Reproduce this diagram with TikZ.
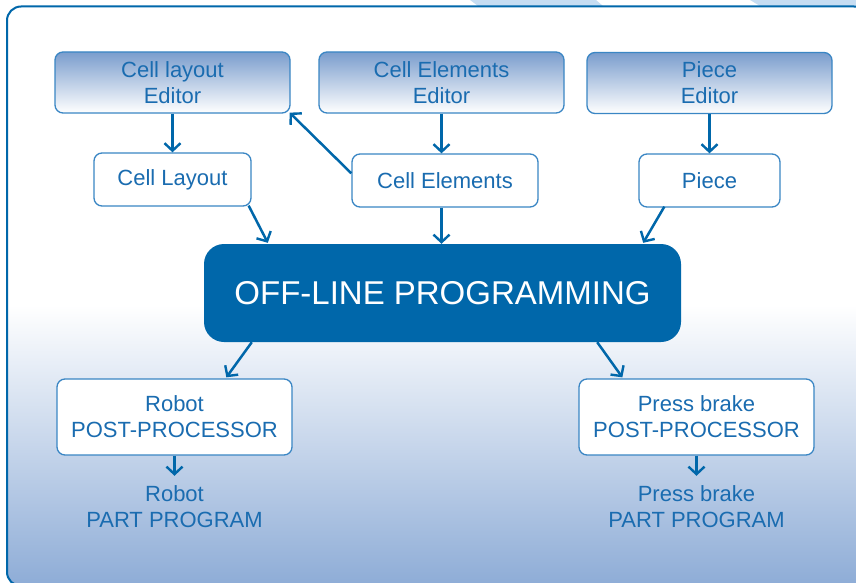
\documentclass[tikz,border=0pt]{standalone}
\usepackage{fontspec}
\setmainfont{Liberation Sans}
\usetikzlibrary{arrows.meta,calc}
\definecolor{mainblue}{HTML}{0067AA}
\definecolor{txtblue}{HTML}{1A6CB0}
\definecolor{boxline}{HTML}{3A86C4}
\definecolor{edtop}{HTML}{7A9DCD}
\definecolor{bgbot}{HTML}{8CABD6}
\definecolor{stripe}{HTML}{C6DDF2}
\tikzset{
  txt/.style={font=\fontsize{22}{26}\selectfont, text=txtblue, align=center},
  plainbox/.style={txt, draw=boxline, line width=1.3pt, rounded corners=8pt, fill=white, inner sep=0pt},
  editorbox/.style={plainbox, top color=edtop, bottom color=white, middle color=edtop!50!white, draw=boxline},
  mainbox/.style={fill=mainblue, rounded corners=20pt, inner sep=0pt, text=white, font=\fontsize{33}{36}\selectfont},
  arr/.style={draw=mainblue, line width=2.5pt, -{Straight Barb[length=7.5pt,width=16pt,line width=2.4pt]}},
}
\begin{document}
\begin{tikzpicture}[x=1pt,y=-1pt]
\useasboundingbox (0,0) rectangle (856,583);
% top stripes
\fill[stripe] (470,0) -- (596,0) -- (603,6) -- (478,6) -- cycle;
\fill[stripe] (750,0) -- (856,0) -- (856,6) -- (760,6) -- cycle;
% frame background
\begin{scope}
  \clip[rounded corners=14pt] (7,6.5) rectangle (868,586);
  \fill[white] (0,0) rectangle (870,590);
  \shade[top color=white, bottom color=bgbot] (0,305) rectangle (870,590);
\end{scope}
\draw[mainblue, line width=2pt, rounded corners=14pt] (7,6.5) rectangle (868,586);

% nodes
\node[editorbox, minimum width=235pt, minimum height=61pt] (cle) at (172.5,82.5) {Cell layout\\Editor};
\node[editorbox, minimum width=245pt, minimum height=61pt] (cee) at (441.5,82.5) {Cell Elements\\Editor};
\node[editorbox, minimum width=245pt, minimum height=61pt] (pe) at (709.5,83) {Piece\\Editor};

\node[plainbox, minimum width=157pt, minimum height=53pt] (cl) at (172.5,179.5) {Cell Layout};
\node[plainbox, minimum width=186pt, minimum height=53pt] (ce) at (445,180.5) {Cell Elements};
\node[plainbox, minimum width=141pt, minimum height=53pt] (pc) at (709.5,180.5) {Piece};

\node[mainbox, minimum width=477pt, minimum height=98pt] (off) at (442.5,293) {OFF-LINE PROGRAMMING};

\node[plainbox, minimum width=235pt, minimum height=76pt] (rpp) at (174.5,417) {Robot\\POST-PROCESSOR};
\node[plainbox, minimum width=235pt, minimum height=76pt] (ppp) at (696.5,417) {Press brake\\POST-PROCESSOR};

\node[txt, inner sep=0pt, minimum height=56pt] (rpt) at (174.5,507) {Robot\\PART PROGRAM};
\node[txt, inner sep=0pt, minimum height=56pt] (ppt) at (696.5,507) {Press brake\\PART PROGRAM};

% connectors
\draw[arr] (cle.south) -- (cl.north);
\draw[arr] (cee.south) -- (cee.south |- ce.north);
\draw[arr] (pe.south) -- (pc.north);
\draw[arr] ($(ce.north west)+(0,20)$) -- ($(cle.south east)+(-1,-1)$);
\draw[arr] ($(cl.south east)+(-3,-1)$) -- ($(off.north west)+(64,-1)$);
\draw[arr] (cee.south |- ce.south) -- (cee.south |- off.north);
\draw[arr] ($(pc.south west)+(26,-1)$) -- ($(off.north east)+(-38,-1)$);
\draw[arr] ($(off.south west)+(48,0)$) -- ($(rpp.north west)+(170,-1)$);
\draw[arr] ($(off.south east)+(-84,0)$) -- ($(ppp.north west)+(44,-1)$);
\draw[arr] (rpp.south) -- ($(rpt.north)+(0,-3)$);
\draw[arr] (ppp.south) -- ($(ppt.north)+(0,-3)$);
\end{tikzpicture}
\end{document}
